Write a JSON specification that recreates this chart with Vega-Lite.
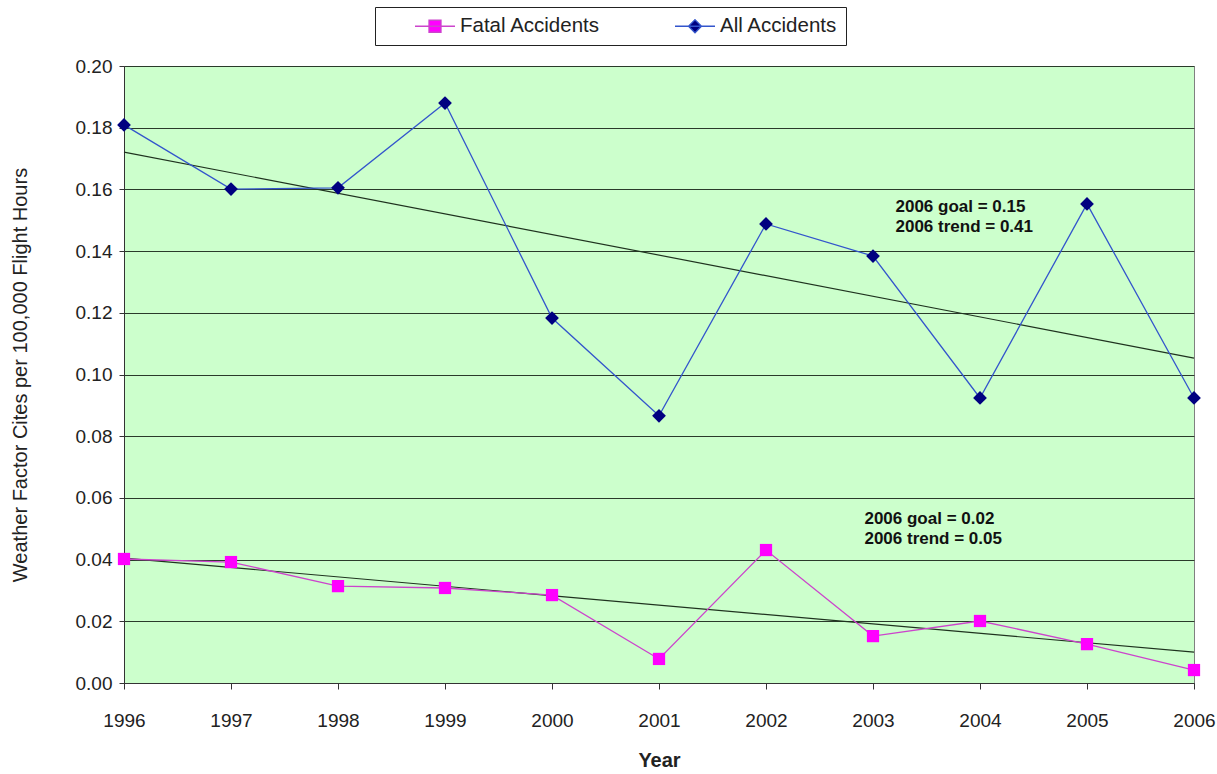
{
  "$schema": "https://vega.github.io/schema/vega-lite/v6.json",
  "width": 1070,
  "height": 617,
  "autosize": {"type": "none"},
  "padding": {"left": 124, "top": 66, "right": 23, "bottom": 91},
  "background": "white",
  "config": {
    "font": "Liberation Sans",
    "view": {"fill": "#CCFFCC", "stroke": "#808080", "strokeWidth": 1},
    "axis": {"labelFont": "Liberation Sans", "titleFont": "Liberation Sans", "labelColor": "#222222", "titleColor": "#222222", "domainColor": "#333333", "tickColor": "#333333"}
  },
  "datasets": {
    "series": [
      {"year": 1996, "series": "Fatal Accidents", "value": 0.0402},
      {"year": 1997, "series": "Fatal Accidents", "value": 0.0392},
      {"year": 1998, "series": "Fatal Accidents", "value": 0.0314},
      {"year": 1999, "series": "Fatal Accidents", "value": 0.0308},
      {"year": 2000, "series": "Fatal Accidents", "value": 0.0285},
      {"year": 2001, "series": "Fatal Accidents", "value": 0.0078},
      {"year": 2002, "series": "Fatal Accidents", "value": 0.0431},
      {"year": 2003, "series": "Fatal Accidents", "value": 0.0152},
      {"year": 2004, "series": "Fatal Accidents", "value": 0.0201},
      {"year": 2005, "series": "Fatal Accidents", "value": 0.0126},
      {"year": 2006, "series": "Fatal Accidents", "value": 0.0042},
      {"year": 1996, "series": "All Accidents", "value": 0.1809},
      {"year": 1997, "series": "All Accidents", "value": 0.1601},
      {"year": 1998, "series": "All Accidents", "value": 0.1605},
      {"year": 1999, "series": "All Accidents", "value": 0.1880},
      {"year": 2000, "series": "All Accidents", "value": 0.1183},
      {"year": 2001, "series": "All Accidents", "value": 0.0866},
      {"year": 2002, "series": "All Accidents", "value": 0.1488},
      {"year": 2003, "series": "All Accidents", "value": 0.1384},
      {"year": 2004, "series": "All Accidents", "value": 0.0924},
      {"year": 2005, "series": "All Accidents", "value": 0.1553},
      {"year": 2006, "series": "All Accidents", "value": 0.0924}
    ],
    "trends": [
      {"year": 1996, "trend": "All", "value": 0.1721},
      {"year": 2006, "trend": "All", "value": 0.1053},
      {"year": 1996, "trend": "Fatal", "value": 0.0405},
      {"year": 2006, "trend": "Fatal", "value": 0.0100}
    ],
    "notes": [
      {"year": 2003.21, "value": 0.1543, "text": "2006 goal = 0.15"},
      {"year": 2003.21, "value": 0.1478, "text": "2006 trend = 0.41"},
      {"year": 2002.92, "value": 0.0532, "text": "2006 goal = 0.02"},
      {"year": 2002.92, "value": 0.0467, "text": "2006 trend = 0.05"}
    ]
  },
  "encoding": {
    "x": {
      "field": "year", "type": "quantitative",
      "scale": {"domain": [1996, 2006], "nice": false, "zero": false},
      "axis": {
        "title": "Year", "values": [1996,1997,1998,1999,2000,2001,2002,2003,2004,2005,2006],
        "format": "d", "grid": false, "tickSize": 6, "labelPadding": 22, "labelFontSize": 19,
        "titleFontSize": 20, "titleFontWeight": "bold", "titlePadding": 20, "labelFlush": false
      }
    },
    "y": {
      "field": "value", "type": "quantitative",
      "scale": {"domain": [0, 0.2], "nice": false},
      "axis": {
        "title": "Weather Factor Cites per 100,000 Flight Hours",
        "values": [0,0.02,0.04,0.06,0.08,0.1,0.12,0.14,0.16,0.18,0.2],
        "format": ".2f", "grid": true, "gridColor": "#2a3a2a", "gridOpacity": 1, "gridWidth": 1.2,
        "tickSize": 5, "labelPadding": 7, "labelFontSize": 19,
        "titleFontSize": 20, "titleFontWeight": "normal", "titlePadding": 45
      }
    }
  },
  "layer": [
    {
      "data": {"name": "trends"},
      "mark": {"type": "line", "color": "#1f331f", "strokeWidth": 1.2},
      "encoding": {"detail": {"field": "trend"}}
    },
    {
      "data": {"name": "series"},
      "mark": {"type": "line", "strokeWidth": 1.3},
      "encoding": {
        "color": {
          "field": "series", "type": "nominal",
          "scale": {"domain": ["Fatal Accidents", "All Accidents"], "range": ["#CC44CC", "#3355CC"]},
          "legend": {
            "title": null, "orient": "none", "legendX": 251, "legendY": -59, "direction": "horizontal",
            "fillColor": "white", "strokeColor": "#222222", "padding": 8, "columnPadding": 42,
            "labelFontSize": 20.5, "labelColor": "#222222", "labelOffset": 14, "symbolOffset": 41, "symbolSize": 400,
            "symbolStrokeWidth": 1.3, "cornerRadius": 0,
            "encode": {
              "symbols": {
                "update": {
                  "shape": {"signal": "datum.value == 'Fatal Accidents' ? 'M-2,0H2M-0.6,-0.6H0.6V0.6H-0.6Z' : 'M-2,0H2M0,-0.65L0.65,0L0,0.65L-0.65,0Z'"},
                  "fill": {"signal": "datum.value == 'Fatal Accidents' ? '#FF00FF' : '#000080'"},
                  "stroke": {"signal": "datum.value == 'Fatal Accidents' ? '#CC44CC' : '#3355CC'"},
                  "strokeWidth": {"value": 1.3},
                  "size": {"value": 400},
                  "strokeOpacity": {"value": 1},
                  "fillOpacity": {"value": 1},
                  "opacity": {"value": 1}
                }
              }
            }
          }
        }
      }
    },
    {
      "data": {"name": "series"},
      "transform": [{"filter": "datum.series == 'Fatal Accidents'"}],
      "mark": {"type": "point", "shape": "square", "filled": true, "fill": "#FF00FF", "opacity": 1, "strokeWidth": 0, "size": 150}
    },
    {
      "data": {"name": "series"},
      "transform": [{"filter": "datum.series == 'All Accidents'"}],
      "mark": {"type": "point", "shape": "diamond", "filled": true, "fill": "#000080", "opacity": 1, "strokeWidth": 0, "size": 190}
    },
    {
      "data": {"name": "notes"},
      "mark": {"type": "text", "align": "left", "baseline": "middle", "fontSize": 17, "fontWeight": "bold", "color": "#111111", "font": "Liberation Sans"},
      "encoding": {"text": {"field": "text"}}
    }
  ]
}
